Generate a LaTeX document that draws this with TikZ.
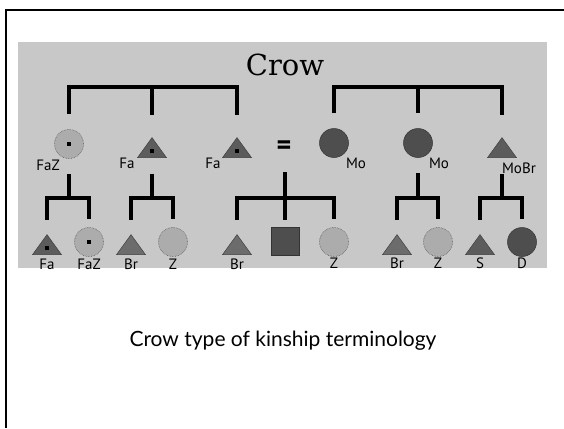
\documentclass[tikz,border=0pt]{standalone}
\usepackage{fontspec}
\newfontfamily\lblfont{PT Sans}
\newfontfamily\capfont{Lato}
\newfontfamily\titlefont{DejaVu Serif}
\usetikzlibrary{shapes.geometric,positioning}

\definecolor{panel}{RGB}{200,200,200}
\definecolor{femlight}{RGB}{172,172,172}
\definecolor{femdark}{RGB}{78,78,78}
\definecolor{tri}{RGB}{92,92,92}
\definecolor{trilight}{RGB}{108,108,108}

\tikzset{
  kin/.style={line width=3.1pt},
  fem/.style={circle,minimum size=29pt,inner sep=0pt,fill=femlight,draw=black!65,densely dotted,line width=0.6pt},
  femd/.style={circle,minimum size=29pt,inner sep=0pt,fill=femdark,draw=black!80,line width=0.5pt},
  male/.style={isosceles triangle,shape border rotate=90,isosceles triangle stretches,
    minimum width=29pt,minimum height=20pt,inner sep=0pt,fill=tri,draw=black!75,line width=0.5pt,anchor=apex},
  sq/.style={rectangle,minimum size=28pt,inner sep=0pt,fill=femdark,draw=black!80,line width=0.5pt},
  ego/.style={path picture={\fill[black] ([xshift=-1.7pt,yshift=-1.7pt]path picture bounding box.center) rectangle ++(3.4pt,3.4pt);}},
  egotri/.style={path picture={\fill[black] ([xshift=-1.7pt,yshift=-5.2pt]path picture bounding box.center) rectangle ++(3.4pt,3.4pt);}},
  lbl/.style={font=\lblfont\fontsize{15}{15}\selectfont,inner sep=0pt}
}

\begin{document}
\begin{tikzpicture}[x=1pt,y=-1pt]
\useasboundingbox (0,0) rectangle (564,428);
% frame and grey panel
\draw[line width=2.8pt] (6,428) -- (6,10) -- (564,10);
\fill[panel] (18,42) rectangle (547,268);

\node[font=\titlefont\fontsize{29}{29}\selectfont,inner sep=0pt] (crow) at (285,65) {Crow};

% first generation
\node[fem,ego] (fz1) at (69,144) {};
\node[male,egotri] (fa1) at (152,137) {};
\node[male,egotri] (fa2) at (237,137) {};
\node[font=\lblfont\bfseries\fontsize{28}{28}\selectfont,inner sep=0pt] (eq) at (284,148) {=};
\node[femd] (mo1) at (334,143) {};
\node[femd] (mo2) at (418,143) {};
\node[male] (mb) at (502,137) {};

\node[lbl] (lfz1) at (48,165) {FaZ};
\node[lbl] (lfa1) at (127,163) {Fa};
\node[lbl] (lfa2) at (213,163) {Fa};
\node[lbl] (lmo1) at (356,163) {Mo};
\node[lbl] (lmo2) at (439,163) {Mo};
\node[lbl] (lmb) at (519,168) {MoBr};

% second generation
\node[male,egotri] (fa3) at (47,234) {};
\node[fem,ego] (fz2) at (89,242) {};
\node[male,fill=trilight] (br1) at (131,234) {};
\node[fem] (z1) at (173,242) {};
\node[male,fill=trilight] (br2) at (237,234) {};
\node[sq] (ego) at (285,241) {};
\node[fem] (z2) at (334,242) {};
\node[male,fill=trilight] (br3) at (397,234) {};
\node[fem] (z3) at (438,242) {};
\node[male] (s) at (480,234) {};
\node[femd] (d) at (522,242) {};

\node[lbl] (lfa3) at (47,264) {Fa};
\node[lbl] (lfz2) at (89,264) {FaZ};
\node[lbl] (lbr1) at (131,264) {Br};
\node[lbl] (lz1) at (173,264) {Z};
\node[lbl] (lbr2) at (237,264) {Br};
\node[lbl] (lz2) at (334,263) {Z};
\node[lbl] (lbr3) at (397,263) {Br};
\node[lbl] (lz3) at (438,263) {Z};
\node[lbl] (ls) at (480,263) {S};
\node[lbl] (ld) at (522,263) {D};

% sibling brackets, parents
\coordinate (tF) at (152,87);
\coordinate (tM) at (418,87);
\draw[kin] ([yshift=15pt]fz1.north) |- (tF) -| ([yshift=22pt]fa2.apex);
\draw[kin] (tF) -- ([yshift=22pt]fa1.apex);
\draw[kin] ([yshift=15pt]mo1.north) |- (tM) -| ([yshift=22pt]mb.apex);
\draw[kin] (tM) -- ([yshift=15pt]mo2.north);

% sibling brackets, children
\coordinate (jA) at (69,198);
\coordinate (jB) at (152,198);
\coordinate (jC) at (285,198);
\coordinate (jD) at (418,198);
\coordinate (jE) at (502,198);
\draw[kin] (fz1.south) ++(0,15) -- (jA);
\draw[kin] ([yshift=14pt]fa3.apex) |- (jA) -| ([yshift=8pt]fz2.north);
\draw[kin,line width=3.6pt] (fa1.south) ++(0,16) -- (jB);
\draw[kin] ([yshift=14pt]br1.apex) |- (jB) -| ([yshift=8pt]z1.north);
\draw[kin] (jC |- eq.south) ++(0,17) -- ([yshift=7pt]ego.north);
\draw[kin] ([yshift=14pt]br2.apex) |- (jC) -| ([yshift=8pt]z2.north);
\draw[kin] (mo2.south) ++(0,15) -- (jD);
\draw[kin] ([yshift=14pt]br3.apex) |- (jD) -| ([yshift=8pt]z3.north);
\draw[kin,line width=3.6pt] (mb.south) ++(0,16) -- (jE);
\draw[kin] ([yshift=14pt]s.apex) |- (jE) -| ([yshift=8pt]d.north);

\node[font=\capfont\fontsize{21}{21}\selectfont,inner sep=0pt] (cap) at (283,341) {Crow type of kinship terminology};
\end{tikzpicture}
\end{document}
